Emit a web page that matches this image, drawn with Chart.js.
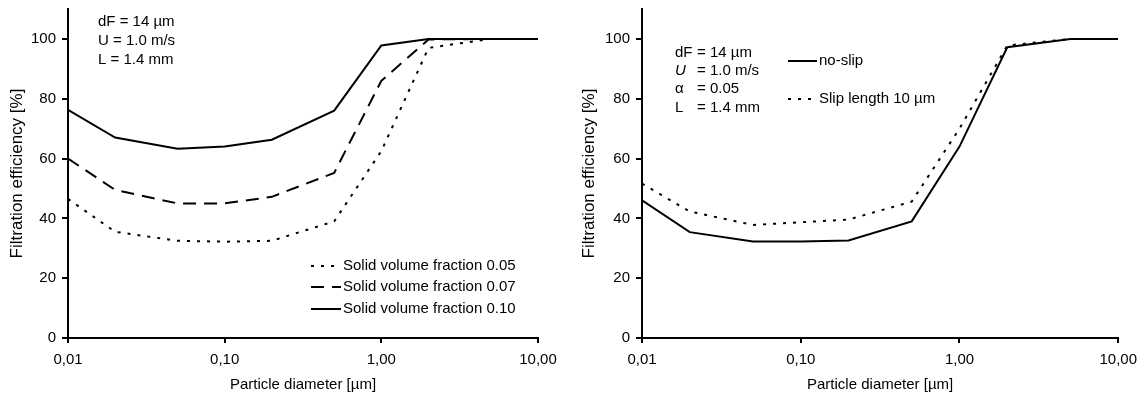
<!DOCTYPE html>
<html>
<head>
<meta charset="utf-8">
<script src="https://cdn.jsdelivr.net/npm/chart.js@4.4.1/dist/chart.umd.min.js"></script>
<style>
  html, body { margin: 0; padding: 0; background: #fff; }
  #wrap { position: relative; width: 1145px; height: 394px; }
  canvas { position: absolute; top: 0; }
</style>
</head>
<body>
<div id="wrap">
  <canvas id="left" width="572" height="394" style="left:0"></canvas>
  <canvas id="right" width="573" height="394" style="left:572px"></canvas>
</div>
<script>
// particle diameters [µm]
const diameters = [0.01, 0.02, 0.05, 0.1, 0.2, 0.5, 1, 2, 5, 10];
const xTicks = [0.01, 0.1, 1, 10];
const yTicks = [0, 20, 40, 60, 80, 100];

// left panel: solid volume fraction
const phi005 = [46.5, 35.5, 32.5, 32.2, 32.5, 39, 62.5, 97, 100, 100];
const phi007 = [60, 49.5, 45, 45, 47.2, 55.2, 86, 99.8, 100, 100];
const phi010 = [76.3, 67, 63.3, 64, 66.3, 76, 97.8, 100, 100, 100];

// right panel: slip
const noSlip = [46, 35.4, 32.3, 32.3, 32.6, 39, 64, 97.2, 100, 100];
const slip10 = [51.6, 42.3, 37.8, 38.7, 39.6, 45.6, 70, 97.8, 100, 100];

const FONT = '"Liberation Sans", Arial, sans-serif';
Chart.defaults.font.family = FONT;
Chart.defaults.font.size = 15;
Chart.defaults.color = '#000';

const DOT = [3, 7];
const DASH = [13, 8];

const notes = {
  id: 'notes',
  afterDatasetsDraw(chart, args, opts) {
    const ctx = chart.ctx;
    ctx.save();
    ctx.fillStyle = '#000';
    ctx.strokeStyle = '#000';
    ctx.textBaseline = 'middle';
    ctx.textAlign = 'left';
    (opts.lines || []).forEach(l => {
      if (l.pre) {
        ctx.font = (l.italic ? 'italic ' : '') + '15px ' + FONT;
        ctx.fillText(l.pre, l.x, l.y);
      }
      ctx.font = '15px ' + FONT;
      ctx.fillText(l.text, l.tx !== undefined ? l.tx : l.x, l.y);
    });
    chart.data.datasets.forEach((ds, i) => {
      const p = opts.legend[i];
      ctx.beginPath();
      ctx.setLineDash(ds.borderDash || []);
      ctx.lineWidth = ds.borderWidth;
      ctx.moveTo(p.x, p.y);
      ctx.lineTo(p.x + opts.sample, p.y);
      ctx.stroke();
      ctx.setLineDash([]);
      ctx.font = '15px ' + FONT;
      ctx.fillText(ds.label, p.x + opts.sample + 2, p.y);
    });
    ctx.restore();
  }
};

function makeLine(label, data, dash) {
  return {
    label, data,
    borderColor: '#000', borderWidth: 2, borderDash: dash,
    pointRadius: 0, tension: 0, fill: false
  };
}

function makeChart(id, datasets, yWidth, padRight, noteOpts) {
  new Chart(document.getElementById(id), {
    type: 'line',
    data: { labels: diameters, datasets: datasets.map(d => ({ ...d, data: d.data.map((v, i) => ({ x: diameters[i], y: v })) })) },
    options: {
      responsive: false,
      animation: false,
      layout: { padding: { top: 9, right: padRight, left: 0, bottom: 0 } },
      plugins: { legend: { display: false }, tooltip: { enabled: false }, notes: noteOpts },
      scales: {
        x: {
          type: 'logarithmic', min: 0.01, max: 10,
          afterBuildTicks: s => { s.ticks = xTicks.map(v => ({ value: v })); },
          afterFit: s => { s.height = 56; },
          ticks: { callback: v => Number(v).toFixed(2).replace('.', ','), maxRotation: 0, padding: 8 },
          grid: { drawOnChartArea: false, drawTicks: true, tickLength: 5, color: '#000', lineWidth: 2 },
          border: { color: '#000', width: 2 },
          title: { display: true, text: 'Particle diameter [µm]', padding: { top: 0, bottom: 0 } }
        },
        y: {
          min: 0, max: 110,
          afterBuildTicks: s => { s.ticks = yTicks.map(v => ({ value: v })); },
          afterFit: s => { s.width = yWidth; s.paddingTop = 0; s.paddingBottom = 0; },
          ticks: { padding: 6 },
          grid: { drawOnChartArea: false, drawTicks: true, tickLength: 6, color: '#000', lineWidth: 2 },
          border: { color: '#000', width: 2 },
          title: { display: true, text: 'Filtration efficiency [%]', font: { size: 17 }, padding: { top: 7, bottom: 0 } }
        }
      }
    },
    plugins: [notes]
  });
}

makeChart('left', [
  makeLine('Solid volume fraction 0.05', phi005, DOT),
  makeLine('Solid volume fraction 0.07', phi007, DASH),
  makeLine('Solid volume fraction 0.10', phi010, [])
], 68, 34, {
  sample: 30,
  legend: [{ x: 311, y: 266 }, { x: 311, y: 287 }, { x: 311, y: 309 }],
  lines: [
    { x: 98, y: 22, text: 'dF = 14 µm' },
    { x: 98, y: 41, text: 'U = 1.0 m/s' },
    { x: 98, y: 60, text: 'L = 1.4 mm' }
  ]
});

makeChart('right', [
  makeLine('no-slip', noSlip, []),
  makeLine('Slip length 10 µm', slip10, DOT)
], 70, 23, {
  sample: 29,
  legend: [{ x: 216, y: 61 }, { x: 216, y: 99 }],
  lines: [
    { x: 103, tx: 125, y: 53, pre: 'dF', text: '= 14 µm' },
    { x: 103, tx: 125, y: 71, pre: 'U', italic: true, text: '= 1.0 m/s' },
    { x: 103, tx: 125, y: 89, pre: 'α', text: '= 0.05' },
    { x: 103, tx: 125, y: 108, pre: 'L', text: '= 1.4 mm' }
  ]
});
</script>
</body>
</html>
